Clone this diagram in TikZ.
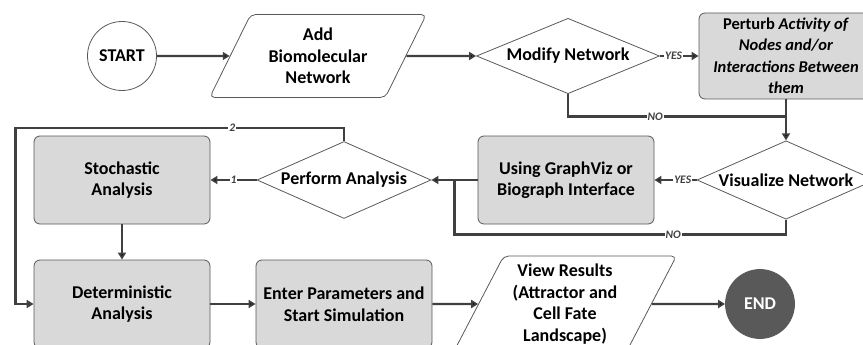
\documentclass[tikz,border=0pt]{standalone}
\usepackage{fontspec}
\setmainfont{Carlito}
\usepackage{tikz}
\usetikzlibrary{arrows.meta, positioning, shapes.geometric, calc}
\usepackage{xcolor}
\definecolor{linegray}{HTML}{404040}
\definecolor{bordergray}{HTML}{595959}
\definecolor{boxgray}{HTML}{D9D9D9}
\definecolor{endgray}{HTML}{595959}

\begin{document}
\begin{tikzpicture}[x=1pt,y=1pt,node distance=124pt and 222pt,on grid,
    font=\bfseries\fontsize{18}{21.5}\selectfont,>={Triangle[length=7pt,width=8pt]}]
    \tikzstyle{term}=[shape=circle,draw=bordergray,line width=0.8pt,minimum size=69pt,inner sep=0pt]
    \tikzstyle{io}=[trapezium,trapezium left angle=62,trapezium right angle=118,trapezium stretches=true,draw=bordergray,line width=0.8pt,rounded corners=5pt,align=center,inner sep=1pt]
    \tikzstyle{decision}=[diamond,draw=bordergray,line width=0.8pt,aspect=2.05,minimum width=178pt,inner sep=0pt]
    \tikzstyle{process}=[rectangle,rounded corners=6pt,draw=bordergray,line width=0.8pt,fill=boxgray,minimum width=176pt,minimum height=88pt,align=center,inner sep=1pt]
    \tikzstyle{flow}=[draw=linegray,line width=2.4pt]
    \tikzstyle{tag}=[fill=white,inner sep=1pt,font=\bfseries\itshape\fontsize{11.5}{13}\selectfont,text=linegray]

    \useasboundingbox (0,0) rectangle (863,-345);

    \node[term] (start) at (122,-56) {START};
    \node[io,right=196pt of start,minimum width=217pt,minimum height=83pt] (add) {Add\\Biomolecular\\Network};
    \node[decision,right=250pt of add,minimum width=183pt] (modify) {Modify Network};
    \node[process,right=218pt of modify,minimum width=174pt,minimum height=86pt,
          font=\bfseries\fontsize{16.5}{21.5}\selectfont] (perturb) {Perturb \textit{Activity of}\\\textit{Nodes and/or}\\\textit{Interactions Between}\\\textit{them}};
    \node[decision,below=of perturb] (visualize) {Visualize Network};
    \node[process,left=220pt of visualize] (graphviz) {Using GraphViz or\\Biograph Interface};
    \node[decision,left=of graphviz,minimum width=174pt] (perform) {Perform Analysis};
    \node[process,left=of perform] (stochastic) {Stochastic\\Analysis};
    \node[process,below=of stochastic] (determ) {Deterministic\\Analysis};
    \node[process,right=of determ] (enter) {Enter Parameters and\\Start Simulation};
    \node[io,right=221pt of enter,minimum width=223pt,minimum height=96pt] (view) {View Results\\(Attractor and\\Cell Fate\\Landscape)};
    \node[term,right=195pt of view,fill=endgray,draw=endgray,text=white] (end) {END};

    \path[->,flow]
    (start) edge (add)
    (add) edge (modify)
    (modify) edge node[tag,pos=0.35] {YES} (perturb)
    (perturb) edge (visualize)
    (visualize) edge node[tag,pos=0.33] {YES} (graphviz)
    (graphviz) edge (perform)
    (perform) edge node[tag,midway] {1} (stochastic)
    (stochastic) edge (determ)
    (determ) edge (enter)
    (enter) edge (view)
    (view) edge (end)
    ;

    \coordinate[below=17pt of perturb.south] (nojoin);
    \draw[flow] (modify.south) |- node[tag,pos=0.7] {NO} (nojoin);
    \coordinate[below=15pt of visualize.south] (nodrop);
    \coordinate (merge) at ($(graphviz.west)!0.5!(perform.east)$);
    \draw[flow] (visualize.south) -- (nodrop) -| node[tag,pos=0.17] {NO} (merge);
    \coordinate (loop) at ($(stochastic.west |- perform.north)+(-18,13)$);
    \draw[flow,->] (perform.north) |- node[tag,pos=0.67] {2} (loop) |- (determ.west);
\end{tikzpicture}
\end{document}
